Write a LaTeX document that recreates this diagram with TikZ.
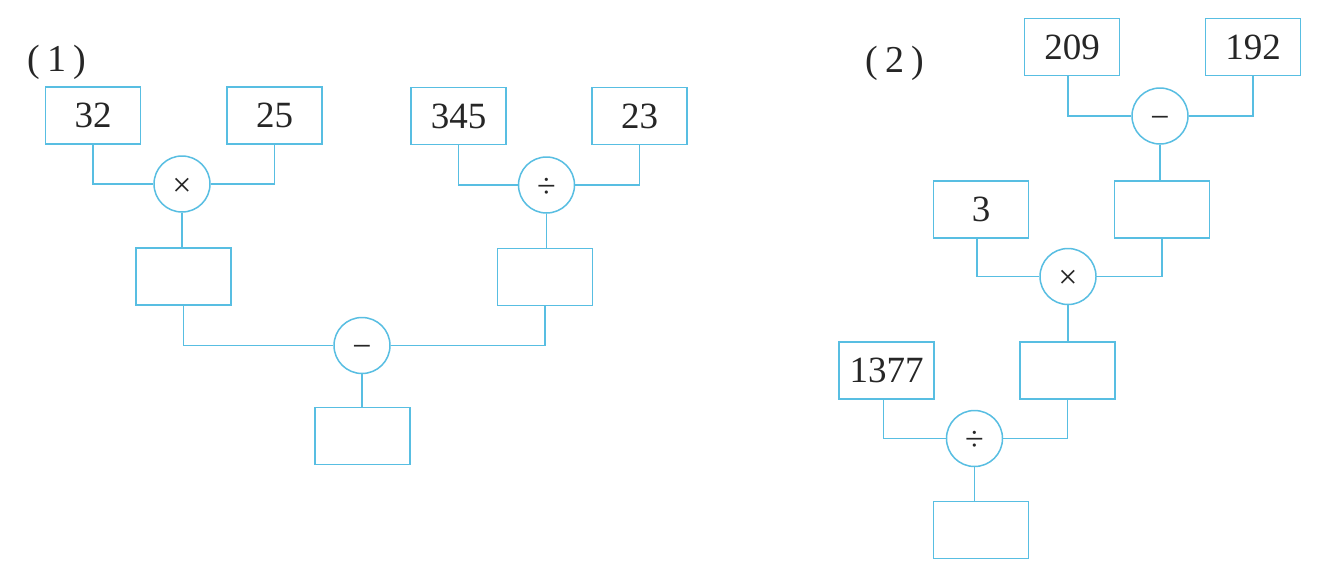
\documentclass[tikz,border=0pt]{standalone}
\usepackage{fontspec}
\setmainfont{Liberation Serif}
\definecolor{lineblue}{RGB}{88,190,226}
\definecolor{ink}{RGB}{38,38,38}
\newcommand{\opsym}[1]{\raisebox{-12pt}[0pt][0pt]{#1}}
\begin{document}
\begin{tikzpicture}[x=1pt,y=-1pt,
  numbox/.style={draw=lineblue,line width=1.5pt,minimum width=95pt,minimum height=57pt,inner sep=0pt,text=ink,font=\fontsize{37}{40}\selectfont},
  opcirc/.style={draw=lineblue,line width=1.5pt,circle,minimum size=56pt,inner sep=0pt,text=ink,font=\fontsize{34}{40}\selectfont},
  conn/.style={draw=lineblue,line width=1.5pt},
  lbl/.style={anchor=base,inner sep=0pt,text=ink,font=\fontsize{38}{40}\selectfont}]
\useasboundingbox (0,0) rectangle (1338,579);
\fill[white] (0,0) rectangle (1338,579);

% ---------- (1) ----------
\node[lbl] (l1) at (57,71) {(\kern7pt1\kern7pt)};
\node[numbox] (b32) at (93,115.5) {32};
\node[numbox] (b25) at (274.5,115.5) {25};
\node[opcirc] (mul1) at (182,184) {\opsym{×}};
\node[numbox] (r1) at (183.5,276.5) {};
\node[numbox] (b345) at (458.5,116) {345};
\node[numbox] (b23) at (639.5,116) {23};
\node[opcirc] (div1) at (546.5,185) {\opsym{÷}};
\node[numbox] (r2) at (545,277) {};
\node[opcirc] (sub1) at (362,345.5) {\opsym{−}};
\node[numbox] (r3) at (362.5,436) {};

\draw[conn] (b32.south) |- (mul1.west);
\draw[conn] (b25.south) |- (mul1.east);
\draw[conn] (mul1.south) -- (mul1.south |- r1.north);
\draw[conn] (b345.south) |- (div1.west);
\draw[conn] (b23.south) |- (div1.east);
\draw[conn] (div1.south) -- (div1.south |- r2.north);
\draw[conn] (r1.south) |- (sub1.west);
\draw[conn] (r2.south) |- (sub1.east);
\draw[conn] (sub1.south) -- (sub1.south |- r3.north);

% ---------- (2) ----------
\node[lbl] (l2) at (895,72) {(\kern7pt2\kern7pt)};
\node[numbox] (b209) at (1072,47) {209};
\node[numbox] (b192) at (1253,47) {192};
\node[opcirc] (sub2) at (1160,116) {\opsym{−}};
\node[numbox] (r4) at (1162,209.5) {};
\node[numbox] (b3) at (981,209.5) {3};
\node[opcirc] (mul2) at (1068,276.5) {\opsym{×}};
\node[numbox] (r5) at (1067.5,370.5) {};
\node[numbox] (b1377) at (886.5,370.5) {1377};
\node[opcirc] (div2) at (974.5,438.5) {\opsym{÷}};
\node[numbox] (r6) at (981,530) {};

\draw[conn] ([xshift=-4pt]b209.south) |- (sub2.west);
\draw[conn] (b192.south) |- (sub2.east);
\draw[conn] (sub2.south) -- (sub2.south |- r4.north);
\draw[conn] ([xshift=-4pt]b3.south) |- (mul2.west);
\draw[conn] (r4.south) |- (mul2.east);
\draw[conn] (mul2.south) -- (mul2.south |- r5.north);
\draw[conn] ([xshift=-3pt]b1377.south) |- (div2.west);
\draw[conn] (r5.south) |- (div2.east);
\draw[conn] (div2.south) -- (div2.south |- r6.north);
\end{tikzpicture}
\end{document}
